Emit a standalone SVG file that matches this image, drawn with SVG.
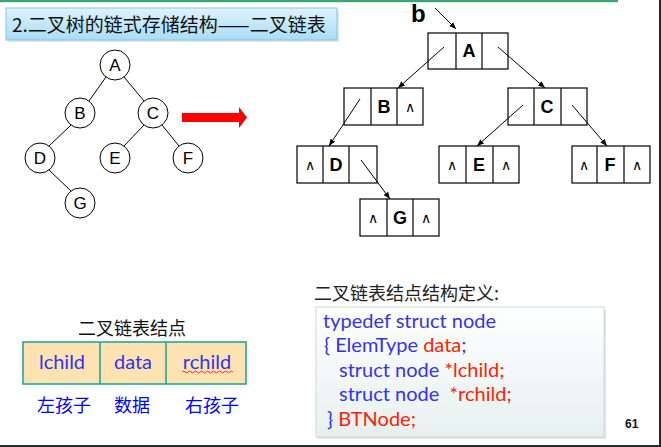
<svg xmlns="http://www.w3.org/2000/svg" width="661" height="447" viewBox="0 0 661 447">
<style>
.cjk{font-family:"Noto Sans CJK SC","Noto Sans",sans-serif}
.circ{fill:#fff;stroke:#000;stroke-width:1}
.cl{font-family:"Liberation Sans",Arial,sans-serif;font-size:17px;text-anchor:middle}
.edge{stroke:#000;stroke-width:1;fill:none}
.cell{fill:#fff;stroke:#000;stroke-width:1.2}
.big{font-family:"Liberation Sans",Arial,sans-serif;font-weight:bold;font-size:18px;text-anchor:middle}
.nul{font-family:"DejaVu Sans",sans-serif;font-size:14px;text-anchor:middle}
.code{font-family:Lato,"Open Sans",sans-serif;font-size:20px}
.lat{font-family:Lato,"Open Sans",sans-serif}
.b{fill:#3333ee}
.r{fill:#ff2200}
</style>
<defs>
<linearGradient id="tg" x1="0" y1="0" x2="0" y2="1">
<stop offset="0" stop-color="#dff3fd"/>
<stop offset="1" stop-color="#a9dcf5"/>
</linearGradient>
<linearGradient id="cg" x1="0" y1="0" x2="0" y2="1">
<stop offset="0" stop-color="#ffffff"/>
<stop offset="1" stop-color="#e6f0f0"/>
</linearGradient>
<marker id="ah" viewBox="0 0 10 10" refX="10" refY="5" markerWidth="7" markerHeight="7" markerUnits="userSpaceOnUse" orient="auto">
<path d="M0,1 L10,5 L0,9 Z" fill="#000"/>
</marker>
</defs>
<rect width="661" height="447" fill="#fff"/>
<rect x="0" y="0" width="618" height="2" fill="#3aa673"/>
<rect x="0" y="2" width="618" height="1" fill="#d6eee2"/>
<rect x="659" y="0" width="2" height="447" fill="#2a2a2a"/>
<rect x="0" y="445" width="661" height="2" fill="#2a2a2a"/>

<g id="title">
<rect x="8" y="10" width="331" height="32" fill="#c8d8e0" opacity="0.6"/>
<rect x="6" y="8" width="331" height="32" fill="url(#tg)" stroke="#86c6e6" stroke-width="1"/>
<text x="12" y="32" class="cjk" font-size="19" fill="#111">2.二叉树的链式存储结构——二叉链表</text>
</g>

<g id="tree-edges">
<line class="edge" x1="106" y1="77" x2="89" y2="101"/>
<line class="edge" x1="124" y1="77" x2="144" y2="101"/>
<line class="edge" x1="71" y1="125" x2="49" y2="146"/>
<line class="edge" x1="144" y1="125" x2="124" y2="146"/>
<line class="edge" x1="162" y1="125" x2="179" y2="146"/>
<line class="edge" x1="49" y1="170" x2="71" y2="191"/>
</g>
<g id="tA"><circle class="circ" cx="115" cy="65" r="15"/><text class="cl" x="115" y="71">A</text></g>
<g id="tB"><circle class="circ" cx="80" cy="113" r="15"/><text class="cl" x="80" y="119">B</text></g>
<g id="tC"><circle class="circ" cx="153" cy="113" r="15"/><text class="cl" x="153" y="119">C</text></g>
<g id="tD"><circle class="circ" cx="40" cy="158" r="15"/><text class="cl" x="40" y="164">D</text></g>
<g id="tE"><circle class="circ" cx="115" cy="158" r="15"/><text class="cl" x="115" y="164">E</text></g>
<g id="tF"><circle class="circ" cx="188" cy="158" r="15"/><text class="cl" x="188" y="164">F</text></g>
<g id="tG"><circle class="circ" cx="80" cy="203" r="15"/><text class="cl" x="80" y="209">G</text></g>

<g id="red-arrow">
<path d="M182,113 L239,113 L239,107 L247,117.5 L239,128 L239,122 L182,122 Z" fill="#ff0000"/>
</g>

<g id="nA">
<rect class="cell" x="428" y="33" width="80" height="36"/>
<line class="cell" x1="456" y1="33" x2="456" y2="69"/><line class="cell" x1="482" y1="33" x2="482" y2="69"/>
<text class="big" x="469" y="57">A</text>
</g>
<g id="nB">
<rect class="cell" x="344" y="88" width="79" height="37"/>
<line class="cell" x1="371" y1="88" x2="371" y2="125"/><line class="cell" x1="397" y1="88" x2="397" y2="125"/>
<text class="big" x="384" y="113">B</text>
<text class="nul" x="410" y="112">∧</text>
</g>
<g id="nC">
<rect class="cell" x="508" y="88" width="79" height="37"/>
<line class="cell" x1="534" y1="88" x2="534" y2="125"/><line class="cell" x1="561" y1="88" x2="561" y2="125"/>
<text class="big" x="547" y="113">C</text>
</g>
<g id="nD">
<rect class="cell" x="297" y="146" width="80" height="37"/>
<line class="cell" x1="323" y1="146" x2="323" y2="183"/><line class="cell" x1="349" y1="146" x2="349" y2="183"/>
<text class="nul" x="310" y="170">∧</text>
<text class="big" x="336" y="171">D</text>
</g>
<g id="nE">
<rect class="cell" x="439" y="146" width="80" height="37"/>
<line class="cell" x1="466" y1="146" x2="466" y2="183"/><line class="cell" x1="493" y1="146" x2="493" y2="183"/>
<text class="nul" x="452" y="170">∧</text>
<text class="big" x="479" y="171">E</text>
<text class="nul" x="506" y="170">∧</text>
</g>
<g id="nF">
<rect class="cell" x="572" y="146" width="78" height="37"/>
<line class="cell" x1="597" y1="146" x2="597" y2="183"/><line class="cell" x1="624" y1="146" x2="624" y2="183"/>
<text class="nul" x="584" y="170">∧</text>
<text class="big" x="610" y="171">F</text>
<text class="nul" x="637" y="170">∧</text>
</g>
<g id="nG">
<rect class="cell" x="360" y="199" width="79" height="37"/>
<line class="cell" x1="387" y1="199" x2="387" y2="236"/><line class="cell" x1="413" y1="199" x2="413" y2="236"/>
<text class="nul" x="373" y="223">∧</text>
<text class="big" x="400" y="224">G</text>
<text class="nul" x="426" y="223">∧</text>
</g>

<g id="pointer-b">
<text x="411" y="22" font-family="Liberation Sans,Arial,sans-serif" font-weight="bold" font-size="24" fill="#000">b</text>
</g>

<g id="connectors">
<line class="edge" x1="435" y1="8" x2="456" y2="29" stroke-width="1.5" marker-end="url(#ah)"/>
<line class="edge" x1="444" y1="47" x2="398" y2="88" marker-end="url(#ah)"/>
<line class="edge" x1="498" y1="47" x2="545" y2="88" marker-end="url(#ah)"/>
<line class="edge" x1="360" y1="99" x2="329" y2="146" marker-end="url(#ah)"/>
<line class="edge" x1="523" y1="105" x2="477" y2="146" marker-end="url(#ah)"/>
<line class="edge" x1="572" y1="105" x2="607" y2="146" marker-end="url(#ah)"/>
<line class="edge" x1="361" y1="160" x2="390" y2="199" marker-end="url(#ah)"/>
</g>

<g id="struct-node">
<text x="132" y="335" class="cjk" font-size="18" fill="#111" text-anchor="middle">二叉链表结点</text>
<rect x="23" y="342" width="223" height="42" fill="#fde3b2" stroke="#18a09a" stroke-width="1.5"/>
<line x1="100" y1="342" x2="100" y2="384" stroke="#18a09a" stroke-width="1.5"/>
<line x1="166" y1="342" x2="166" y2="384" stroke="#18a09a" stroke-width="1.5"/>
<text x="62" y="369" class="lat b" font-size="20" text-anchor="middle">lchild</text>
<text x="133" y="369" class="lat b" font-size="20" text-anchor="middle">data</text>
<text x="207" y="369" class="lat b" font-size="20" text-anchor="middle">rchild</text>
<path d="M182,372 q1.5,-2 3,0 t3,0 t3,0 t3,0 t3,0 t3,0 t3,0 t3,0 t3,0 t3,0 t3,0 t3,0 t3,0 t3,0 t3,0 t3,0 t3,0" fill="none" stroke="#ff3030" stroke-width="1"/>
<text x="64" y="412" class="cjk" font-size="18" fill="#0000ff" text-anchor="middle">左孩子</text>
<text x="132" y="412" class="cjk" font-size="18" fill="#0000ff" text-anchor="middle">数据</text>
<text x="212" y="412" class="cjk" font-size="18" fill="#0000ff" text-anchor="middle">右孩子</text>
</g>

<g id="definition">
<text x="314" y="300" class="cjk" font-size="18" fill="#222">二叉链表结点结构定义:</text>
<rect x="318" y="309" width="288" height="130" fill="#c8cccc" opacity="0.5"/>
<rect x="316" y="307" width="288" height="130" fill="url(#cg)" stroke="#d0d8d8" stroke-width="1"/>
<text class="code" x="323" y="328"><tspan class="b">typedef struct node</tspan></text>
<text class="code" x="324" y="352"><tspan class="b">{ ElemType </tspan><tspan class="r">data</tspan><tspan class="b">;</tspan></text>
<text class="code" x="339" y="377" xml:space="preserve"><tspan class="b">struct node </tspan><tspan class="r">*lchild;</tspan></text>
<text class="code" x="339" y="401" xml:space="preserve"><tspan class="b">struct node  </tspan><tspan class="r">*rchild;</tspan></text>
<text class="code" x="327" y="426"><tspan class="b">} </tspan><tspan class="r">BTNode;</tspan></text>
<text x="625" y="428" font-family="Liberation Sans,Arial,sans-serif" font-weight="bold" font-size="12" fill="#111">61</text>
</g>
</svg>
